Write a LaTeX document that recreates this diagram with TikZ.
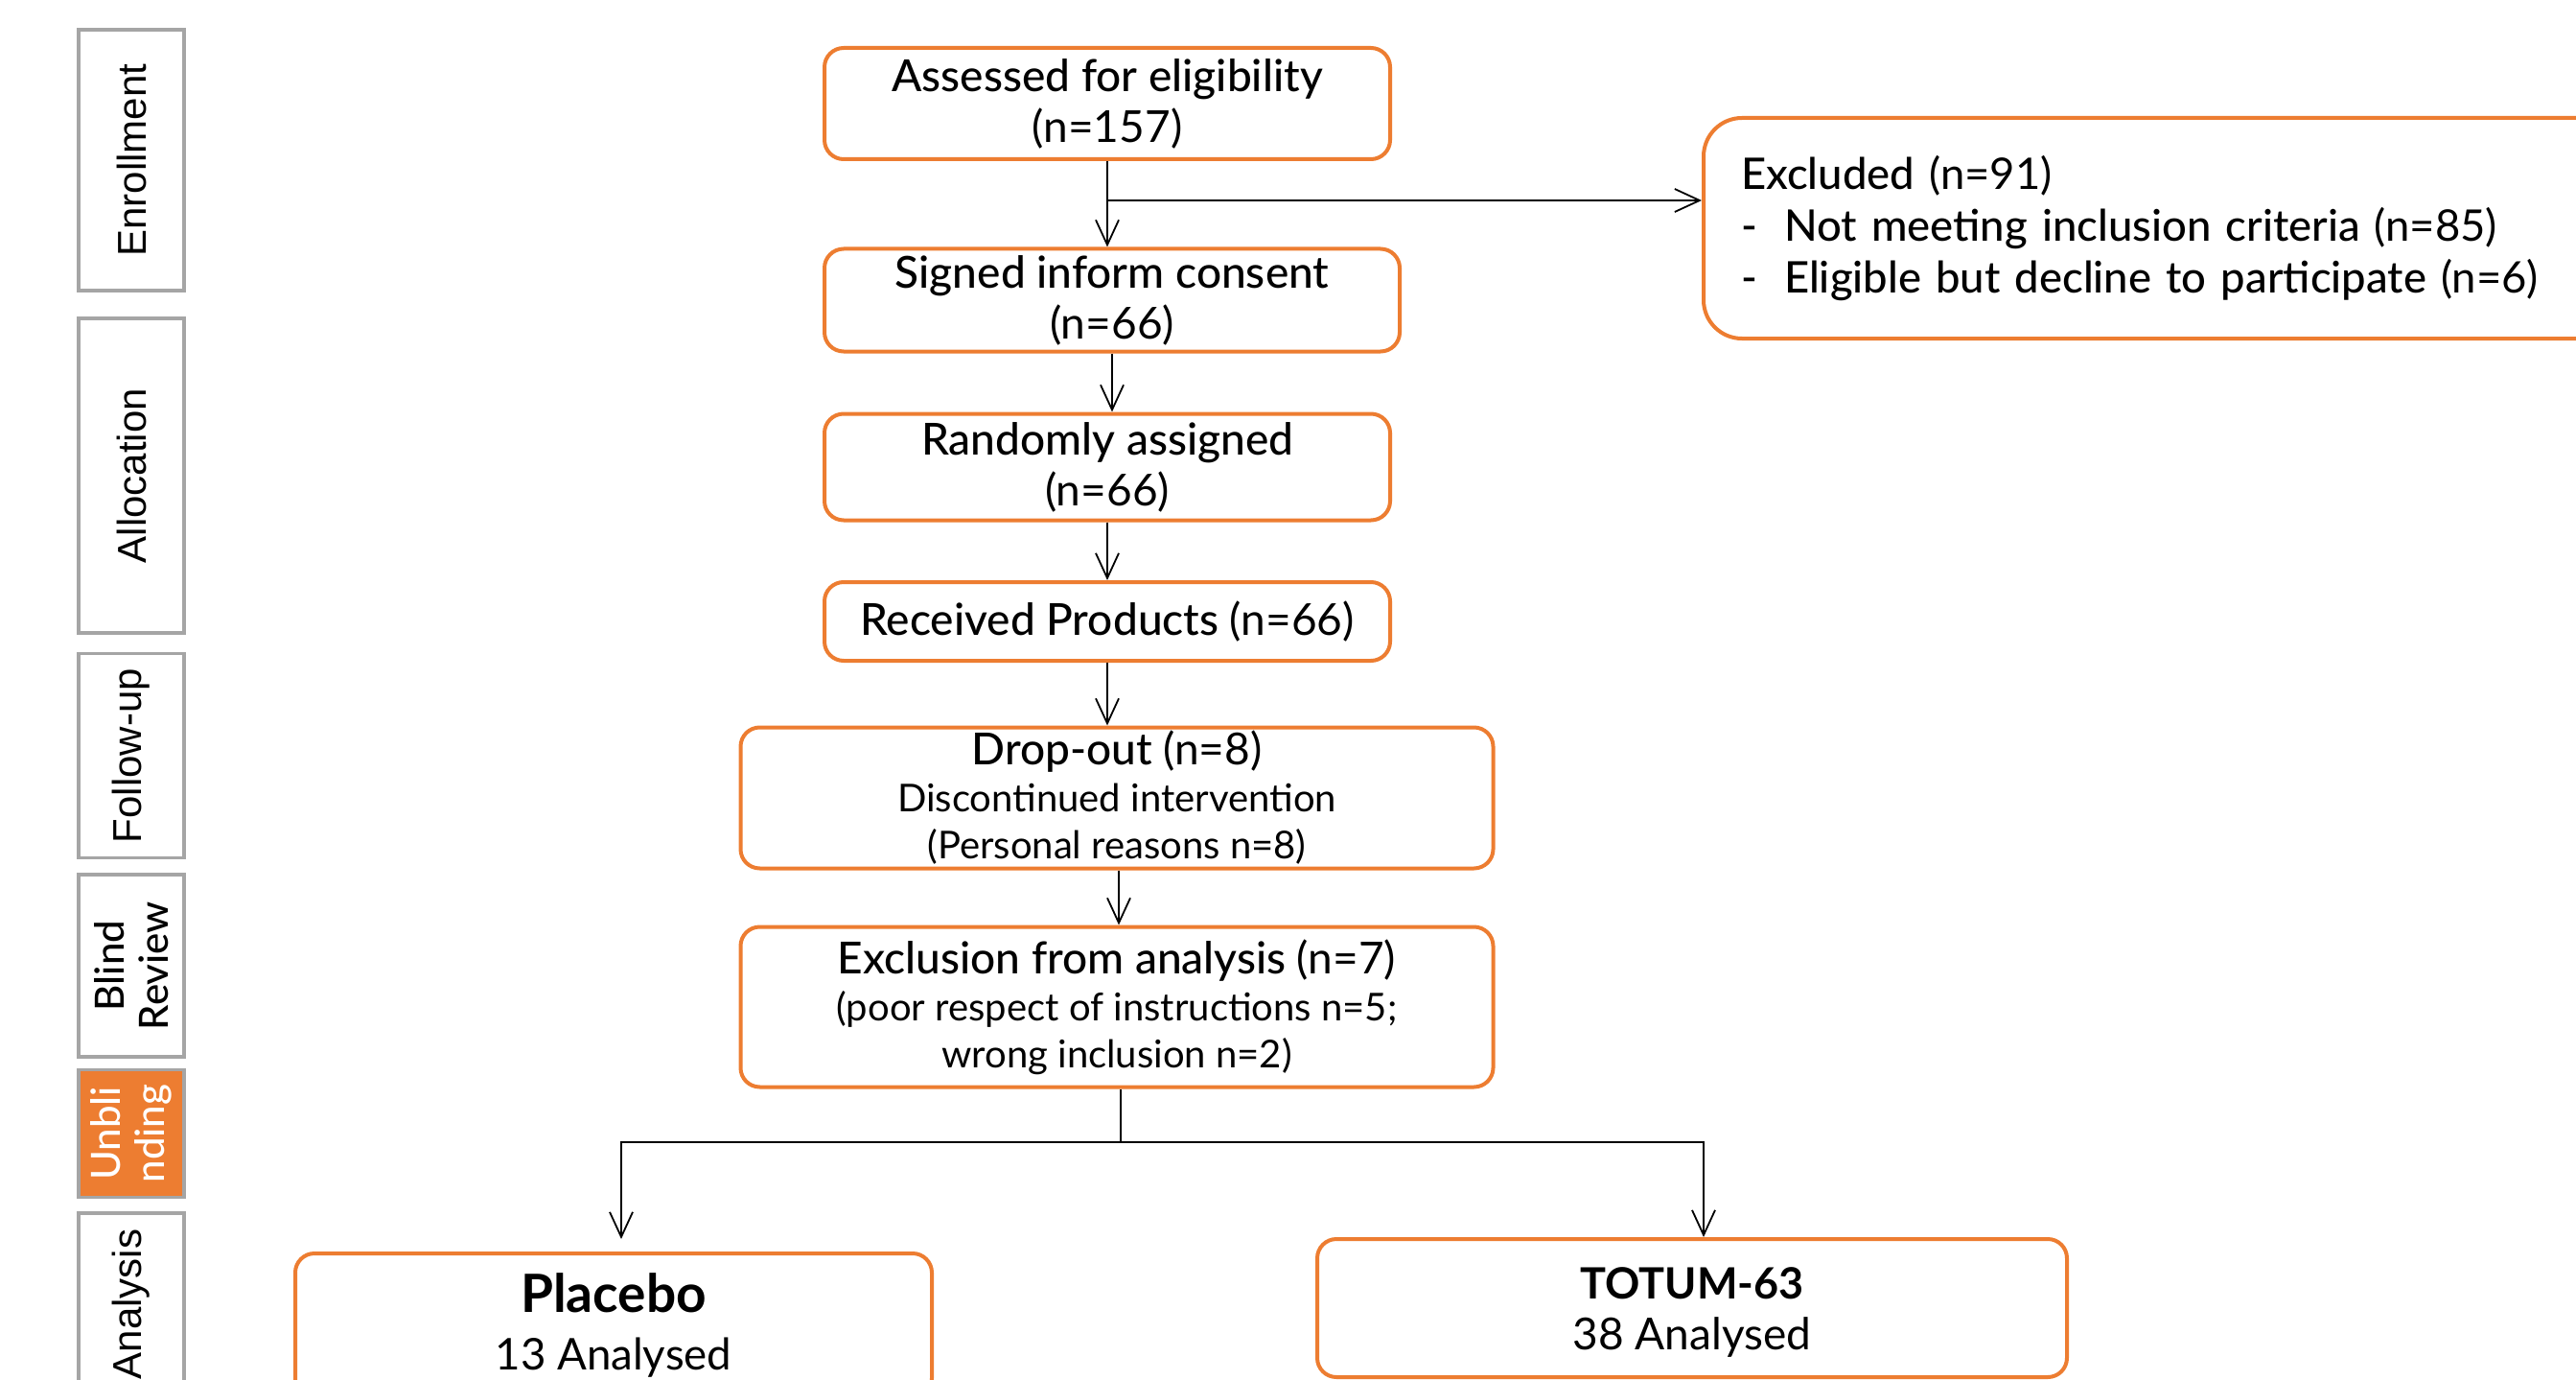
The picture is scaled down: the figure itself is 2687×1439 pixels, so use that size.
\documentclass[tikz,border=0pt]{standalone}
\usepackage{fontspec}
\IfFontExistsTF{Lato Medium}{%
  \setmainfont{Lato Medium}[BoldFont=Lato Bold]\newfontfamily\lightf{Lato}}{%
  \setmainfont{Lato}\IfFontExistsTF{Lato Light}{\newfontfamily\lightf{Lato Light}}{\newfontfamily\lightf{Lato}}}
\newfontfamily\arialf{Liberation Sans}
\usetikzlibrary{arrows.meta,calc}
\definecolor{orng}{HTML}{ED7D31}
\definecolor{gry}{HTML}{A5A5A5}
\begin{document}
\begin{tikzpicture}[x=0.5pt,y=-0.5pt,
  side/.style={draw=gry, line width=1.75pt, minimum height=55pt, inner sep=0pt, rotate=90,
    align=center, font=\arialf\fontsize{21}{23}\selectfont},
  sidelato/.style={side, font=\fontsize{21}{23}\selectfont},
  mbox/.style={draw=orng, line width=2pt, rounded corners=10pt, inner sep=0pt, align=center,
    font=\fontsize{23}{26.5}\selectfont},
  arr/.style={line width=0.9pt, -{Straight Barb[length=13pt,width=12pt]}},
  conn/.style={line width=0.9pt}]
\useasboundingbox (0,0) rectangle (2687,1439);
\fill[white] (0,0) rectangle (2687,1439);

% side labels
\node[side, minimum width=136pt] (enr) at (137,167) {Enrollment};
\node[side, minimum width=164pt] (alc) at (137,496) {Allocation};
\node[side, minimum width=106.5pt] (fol) at (137,788) {Follow-up};
\node[sidelato, minimum width=95pt] (bli) at (137,1007) {Blind\\Review};
\node[sidelato, minimum width=66.5pt, fill=orng, text=white] (unb) at (137,1182) {Unbli\\nding};
\node[side, minimum width=95pt] (ana) at (137,1360) {Analysis};

% main boxes
\node[mbox, minimum width=295pt, minimum height=58pt] (ass) at (1155,108)
  {Assessed for eligibility\\{\lightf (n=157)}};
\node[mbox, minimum width=300pt, minimum height=53.5pt] (sig) at (1160,313)
  {Signed inform consent\\{\lightf (n=66)}};
\node[mbox, minimum width=295pt, minimum height=55.5pt] (ran) at (1155,487)
  {Randomly assigned\\{\lightf (n=66)}};
\node[mbox, minimum width=295pt, minimum height=41pt] (rec) at (1155,648)
  {Received Products {\lightf (n=66)}};
\node[mbox, minimum width=392.5pt, minimum height=73.5pt, font=\fontsize{23}{24.5}\selectfont] (drp) at (1165,832)
  {Drop-out {\lightf (n=8)}\\{\lightf\fontsize{20}{24.5}\selectfont Discontinued intervention}\\{\lightf\fontsize{20}{24.5}\selectfont (Personal reasons n=8)}};
\node[mbox, minimum width=392.5pt, minimum height=83.5pt, font=\fontsize{23}{24.5}\selectfont] (exl) at (1165,1050)
  {Exclusion from analysis {\lightf (n=7)}\\{\lightf\fontsize{20}{24.5}\selectfont (poor respect of instructions n=5;}\\{\lightf\fontsize{20}{24.5}\selectfont wrong inclusion n=2)}};
\node[mbox, minimum width=332pt, minimum height=75pt, font=\fontsize{22.8}{30}\selectfont] (plc) at (640,1382)
  {{\bfseries\fontsize{27.5}{30}\selectfont Placebo}\\{\lightf 13 Analysed}};
\node[mbox, minimum width=391pt, minimum height=72pt, font=\fontsize{23}{26.5}\selectfont] (tot) at (1765,1364)
  {\rule{0pt}{21pt}{\bfseries\fontsize{22.5}{26.5}\selectfont TOTUM-63}\\{\lightf 38 Analysed}};
\node[mbox, rounded corners=20pt, minimum width=491.5pt, minimum height=115pt, inner xsep=19.5pt,
  text width=452.5pt, align=left, font=\fontsize{22.7}{27}\selectfont] (exc) at (2268.5,238)
  {Excluded {\lightf (n=91)}\\
   \makebox[22.5pt][l]{-}Not meeting inclusion criteria {\lightf (n=85)}\\
   \makebox[22.5pt][l]{-}Eligible but decline to participate {\lightf (n=6)}};

% connectors
\draw[arr] (ass.south) -- (ass.south |- sig.north);
\coordinate (br) at (ass.south |- 0,209);
\draw[arr] (br) -- (br -| exc.west);
\draw[arr] (sig.south) -- (sig.south |- ran.north);
\draw[arr] (ran.south) -- (ran.south |- rec.north);
\draw[arr] (rec.south) -- (rec.south |- drp.north);
\draw[arr] ([xshift=1pt]drp.south) -- ([xshift=1pt]exl.north);
\coordinate (split) at ([xshift=2pt]exl.south |- 0,1191);
\draw[conn] ([xshift=2pt]exl.south) -- (split);
\draw[arr] (split) -| ([xshift=4pt,yshift=6.5pt]plc.north);
\draw[arr] (split) -| ([xshift=6pt]tot.north);
\end{tikzpicture}
\end{document}
